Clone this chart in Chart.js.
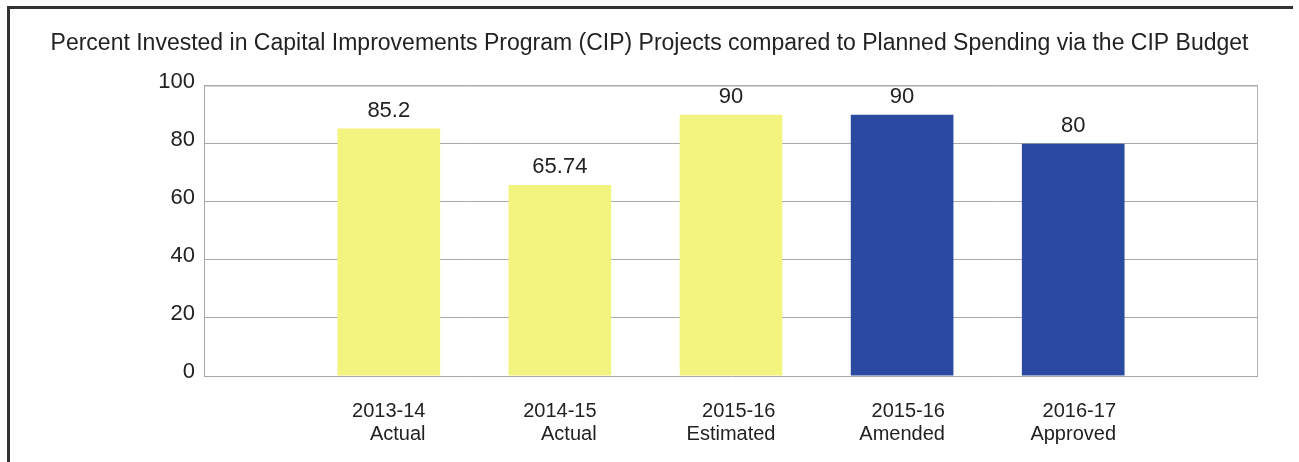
<!DOCTYPE html>
<html lang="en">
<head>
    <meta charset="UTF-8">
    <title>Percent Invested in CIP Projects</title>
    <script src="https://cdn.jsdelivr.net/npm/chart.js"></script>
    <style>
        html, body { margin: 0; padding: 0; background: #fff; overflow: hidden; }
        #wrap { position: relative; width: 1299px; height: 462px; }
        #frame {
            position: absolute; left: 7px; top: 6px; width: 1283px; height: 470px;
            border-top: 3px solid #333; border-left: 3px solid #333; pointer-events: none;
        }
    </style>
</head>
<body>
    <div id="wrap">
        <canvas id="myChart" width="1299" height="462"></canvas>
        <div id="frame"></div>
    </div>
    <script>
        const ctx = document.getElementById('myChart').getContext('2d');

        // Data for the chart
        const yearLabels = ['2013-14', '2014-15', '2015-16', '2015-16', '2016-17'];
        const typeLabels = ['Actual', 'Actual', 'Estimated', 'Amended', 'Approved'];
        const percentValues = [85.2, 65.74, 90, 90, 80];
        const valueLabels = ['85.2', '65.74', '90', '90', '80'];
        const barColors = ['#f3f380', '#f3f380', '#f3f380', '#2a4aa2', '#2a4aa2'];
        const yTicks = [0, 20, 40, 60, 80, 100];

        const FONT = '"Liberation Sans", Arial, sans-serif';

        // Value labels above the bars, plot frame, and right-aligned two-line category labels
        const extrasPlugin = {
            id: 'extras',
            afterDatasetsDraw: (chart) => {
                const c = chart.ctx;
                const area = chart.chartArea;
                const xScale = chart.scales.x;

                c.save();
                // plot frame (top / right)
                c.strokeStyle = '#b4b4b4';
                c.lineWidth = 1;
                c.beginPath();
                c.moveTo(area.left, area.top + 0.5);
                c.lineTo(area.right - 0.5, area.top + 0.5);
                c.lineTo(area.right - 0.5, area.bottom);
                c.stroke();

                c.font = '22px ' + FONT;
                c.fillStyle = '#222';
                c.textAlign = 'center';
                c.textBaseline = 'middle';
                chart.getDatasetMeta(0).data.forEach((bar, i) => {
                    c.fillText(valueLabels[i], bar.x, bar.y - 18);
                });

                // category labels: block centred under the bar, lines right-aligned
                c.font = '20px ' + FONT;
                c.textAlign = 'right';
                yearLabels.forEach((year, i) => {
                    const cx = xScale.getPixelForValue(i);
                    const w = Math.max(c.measureText(year).width, c.measureText(typeLabels[i]).width);
                    c.fillText(year, cx + w / 2, area.bottom + 35);
                    c.fillText(typeLabels[i], cx + w / 2, area.bottom + 58);
                });
                c.restore();
            }
        };

        Chart.register(extrasPlugin);

        const chart = new Chart(ctx, {
            type: 'bar',
            data: {
                datasets: [{
                    label: 'Percent Invested',
                    data: percentValues.map((v, i) => ({ x: i, y: v })),
                    backgroundColor: barColors,
                    borderWidth: 0,
                    categoryPercentage: 1,
                    barPercentage: 0.6
                }]
            },
            options: {
                responsive: false,
                animation: false,
                layout: { padding: 0 },
                plugins: {
                    legend: { display: false },
                    tooltip: { enabled: false },
                    title: {
                        display: true,
                        text: 'Percent Invested in Capital Improvements Program (CIP) Projects compared to Planned Spending via the CIP Budget',
                        color: '#222',
                        font: { family: FONT, size: 23, weight: 'normal' },
                        padding: { top: 30, bottom: 28 }
                    }
                },
                scales: {
                    x: {
                        type: 'linear',
                        bounds: 'data',
                        offset: false,
                        min: -1.08,
                        max: 5.08,
                        afterBuildTicks: (scale) => { scale.ticks = yearLabels.map((y, i) => ({ value: i })); },
                        grid: { display: false },
                        border: { display: false },
                        ticks: { display: false },
                        afterFit: (scale) => { scale.height = 86; }
                    },
                    y: {
                        min: 0,
                        max: 100,
                        afterBuildTicks: (scale) => { scale.ticks = yTicks.map(v => ({ value: v })); },
                        grid: { color: '#a8a8a8', drawTicks: false },
                        border: { color: '#a8a8a8' },
                        ticks: {
                            color: '#222',
                            padding: 9,
                            labelOffset: -4,
                            font: { family: FONT, size: 22 }
                        },
                        afterFit: (scale) => { scale.width = 204; }
                    },
                    // empty right axis, only reserves the margin to the right of the plot
                    yRight: {
                        position: 'right',
                        min: 0,
                        max: 100,
                        grid: { display: false },
                        border: { display: false },
                        ticks: { display: false },
                        afterFit: (scale) => { scale.width = 41; }
                    }
                }
            }
        });
    </script>
</body>
</html>
